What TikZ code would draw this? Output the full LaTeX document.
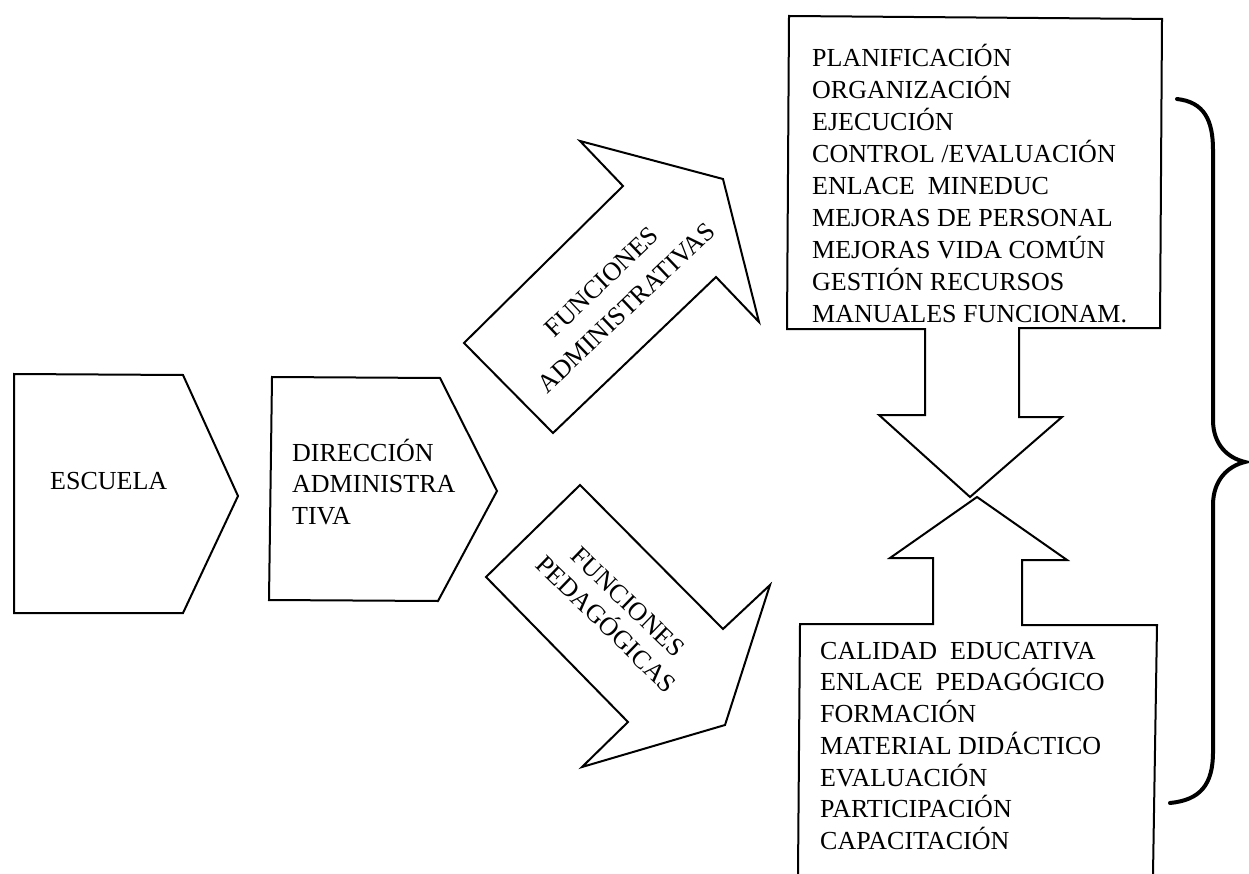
\documentclass[tikz,border=0pt]{standalone}
\usepackage{fontspec}
\setmainfont{Liberation Serif}
\begin{document}
\begin{tikzpicture}[x=1pt,y=-1pt,
  shapeline/.style={draw=black, line width=2pt, line join=miter},
  lbl/.style={inner sep=0pt, font=\fontsize{26}{31.5}\selectfont},
  toplbl/.style={inner sep=0pt, font=\fontsize{26}{31.9}\selectfont},
  bracestyle/.style={draw=black, line width=4pt, line cap=round}]
\useasboundingbox (0,0) rectangle (1249,874);
\fill[white] (0,0) rectangle (1249,874);

% ESCUELA
\draw[shapeline] (14,374) -- (183,375) -- (238,496) -- (183,613) -- (14,613) -- cycle;
\node[lbl, anchor=base west] (escuela) at (50,489) {ESCUELA};

% DIRECCION
\draw[shapeline] (272,377) -- (440,378) -- (497,491) -- (438,601) -- (269,600) -- cycle;
\node[lbl, anchor=base west] (direccion) at (292,461)
  {\begin{tabular}[t]{@{}l@{}}DIRECCIÓN\\ADMINISTRA\\TIVA\end{tabular}};

% upper block arrow
\draw[shapeline] (464,343) -- (623,186) -- (580,141) -- (723,179) -- (759,322) -- (716,277) -- (553,433) -- cycle;
\node[lbl, rotate=43.6, align=center] (fadm) at (614,295) {FUNCIONES\\[4pt]ADMINISTRATIVAS};

% lower block arrow
\draw[shapeline] (580,485) -- (723,629) -- (770,585) -- (725,725) -- (582,767) -- (628,722) -- (486,577) -- cycle;
\node[lbl, rotate=-44, align=center] (fped) at (617,613) {FUNCIONES\\PEDAGÓGICAS};

% top callout
\draw[shapeline] (789,16) -- (1162,19) -- (1160,328) -- (1019,328) -- (1019,417) -- (1062,417) -- (970,497) -- (879,415) -- (925,415) -- (925,329) -- (787,329) -- cycle;
\node[toplbl, anchor=base west] (admlist) at (812,67)
  {\begin{tabular}[t]{@{}l@{}}PLANIFICACIÓN\\ORGANIZACIÓN\\EJECUCIÓN\\CONTROL /EVALUACIÓN\\ENLACE\ \ MINEDUC\\MEJORAS DE PERSONAL\\MEJORAS VIDA COMÚN\\GESTIÓN RECURSOS\\MANUALES FUNCIONAM.\end{tabular}};

% bottom callout (open at the bottom)
\draw[shapeline] (798,874) -- (800,624) -- (933,624) -- (933,558) -- (890,558) -- (977,497) -- (1067,560) -- (1022,560) -- (1022,625) -- (1157,625) -- (1153,874);
\node[lbl, anchor=base west] (pedlist) at (820,659)
  {\begin{tabular}[t]{@{}l@{}}CALIDAD\ \ EDUCATIVA\\ENLACE\ \ PEDAGÓGICO\\FORMACIÓN\\MATERIAL DIDÁCTICO\\EVALUACIÓN\\PARTICIPACIÓN\\CAPACITACIÓN\end{tabular}};

% brace
\draw[bracestyle] (1177,99) .. controls (1204,102) and (1213,120) .. (1213,150)
  -- (1213,420) .. controls (1213,445) and (1228,458) .. (1245,462)
  .. controls (1228,466) and (1213,480) .. (1213,505)
  -- (1213,752) .. controls (1213,785) and (1200,800) .. (1170,803);
\end{tikzpicture}
\end{document}
